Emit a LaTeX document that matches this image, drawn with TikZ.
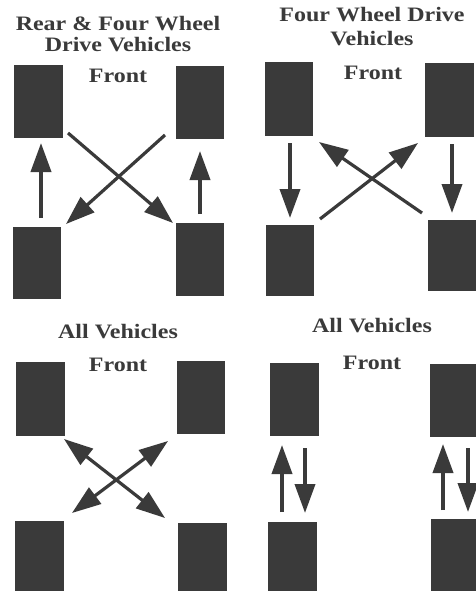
\documentclass[tikz,border=0pt]{standalone}
\usepackage{fontspec}
\setmainfont{Liberation Serif}
\usetikzlibrary{arrows.meta}
\definecolor{ink}{HTML}{3A3A3A}
\tikzset{
  tire/.style={fill=ink, draw=ink, line width=0.6pt},
  lbl/.style={anchor=base, inner sep=0pt, text=ink, font=\fontsize{20.5}{22}\selectfont\bfseries},
  mv/.style={draw=ink, line width=3.8pt, -{Triangle[length=29pt,width=20pt]}},
  mvx/.style={draw=ink, line width=3.2pt, -{Triangle[length=29pt,width=20pt]}},
  mvd/.style={draw=ink, line width=3.2pt, {Triangle[length=29pt,width=20pt]}-{Triangle[length=29pt,width=20pt]}}
}
\newcommand{\wide}[1]{\scalebox{1.17}[1]{#1}}
\begin{document}
\begin{tikzpicture}[x=1pt,y=-1pt]
\useasboundingbox[fill=white] (0,0) rectangle (475,591);
% ---------- Quadrant 1 ----------
\node[lbl] (t1a) at (118,31) {\wide{Rear \& Four Wheel}};
\node[lbl] (t1b) at (118,52) {\wide{Drive Vehicles}};
\node[lbl] (f1) at (118,83) {\wide{Front}};
\path[tire] (14,65) rectangle (62,137);
\path[tire] (176,66) rectangle (223,138);
\path[tire] (13,227) rectangle (60,298);
\path[tire] (176,223) rectangle (223,295);
\coordinate (a1s) at (41,218); \coordinate (a1e) at (41,143);
\coordinate (b1s) at (200,214); \coordinate (b1e) at (200,151);
\coordinate (c1s) at (68,133); \coordinate (c1e) at (173,223);
\coordinate (d1s) at (165,135); \coordinate (d1e) at (66,224);
\draw[mv] (a1s) -- (a1e);
\draw[mv] (b1s) -- (b1e);
\draw[mvx] (c1s) -- (c1e);
\draw[mvx] (d1s) -- (d1e);
% ---------- Quadrant 2 ----------
\node[lbl] (t2a) at (372,22) {\wide{Four Wheel Drive}};
\node[lbl] (t2b) at (372,46) {\wide{Vehicles}};
\node[lbl] (f2) at (373,80) {\wide{Front}};
\path[tire] (265,62) rectangle (312,135);
\path[tire] (425,63) rectangle (473,136);
\path[tire] (266,225) rectangle (313,295);
\path[tire] (428,220) rectangle (477,290);
\coordinate (a2s) at (290,143); \coordinate (a2e) at (290,218);
\coordinate (b2s) at (452,144); \coordinate (b2e) at (452,213);
\coordinate (c2s) at (320,219); \coordinate (c2e) at (418,143);
\coordinate (d2s) at (422,213); \coordinate (d2e) at (319,142);
\draw[mv] (a2s) -- (a2e);
\draw[mv] (b2s) -- (b2e);
\draw[mvx] (c2s) -- (c2e);
\draw[mvx] (d2s) -- (d2e);
% ---------- Quadrant 3 ----------
\node[lbl] (t3) at (118,338) {\wide{All Vehicles}};
\node[lbl] (f3) at (118,371) {\wide{Front}};
\path[tire] (16,362) rectangle (64,435);
\path[tire] (177,361) rectangle (224,433);
\path[tire] (15,521) rectangle (63,593);
\path[tire] (178,523) rectangle (226,593);
\coordinate (c3s) at (64,439); \coordinate (c3e) at (165,518);
\coordinate (d3s) at (72,513); \coordinate (d3e) at (168,441);
\draw[mvd] (c3s) -- (c3e);
\draw[mvd] (d3s) -- (d3e);
% ---------- Quadrant 4 ----------
\node[lbl] (t4) at (372,332) {\wide{All Vehicles}};
\node[lbl] (f4) at (372,369) {\wide{Front}};
\path[tire] (270,363) rectangle (318,435);
\path[tire] (430,364) rectangle (477,436);
\path[tire] (268,522) rectangle (316,593);
\path[tire] (431,519) rectangle (477,593);
\coordinate (a4s) at (282,512); \coordinate (a4e) at (282,445);
\coordinate (b4s) at (305,448); \coordinate (b4e) at (305,513);
\coordinate (c4s) at (443,510); \coordinate (c4e) at (443,444);
\coordinate (d4s) at (468,448); \coordinate (d4e) at (468,512);
\draw[mv] (a4s) -- (a4e);
\draw[mv] (b4s) -- (b4e);
\draw[mv] (c4s) -- (c4e);
\draw[mv] (d4s) -- (d4e);
\end{tikzpicture}
\end{document}
